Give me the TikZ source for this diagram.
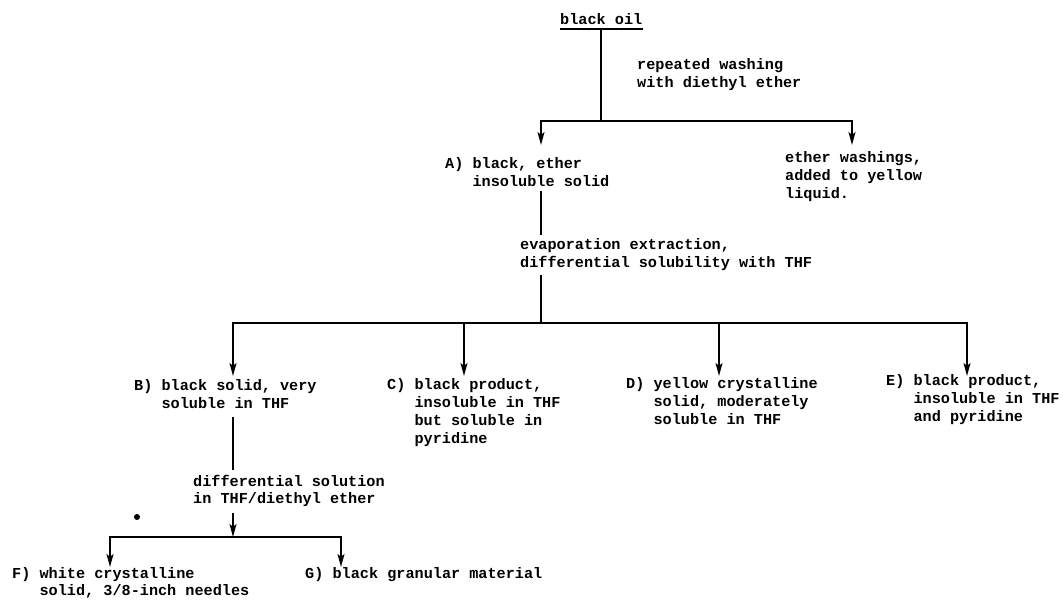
\documentclass[tikz,border=0pt]{standalone}
\usepackage{fontspec}
\newfontfamily\tw{Liberation Mono}
\usetikzlibrary{arrows.meta}
\tikzset{
  lbl/.style={anchor=base west, inner sep=0pt, align=left,
    font=\tw\bfseries\fontsize{15.2}{17.7}\selectfont},
  ln/.style={line width=1.8pt},
  arr/.style={ln, -{Stealth[length=13pt,width=7pt,inset=3pt]}}
}
\begin{document}
\begin{tikzpicture}[x=1pt,y=-1pt]
\useasboundingbox (0,0) rectangle (1063,601);
% labels (anchor = baseline of last line)
\node[lbl] (oil) at (560,25) {black oil};
\node[lbl] (wash) at (637,87.7) {repeated washing\\with diethyl ether};
\node[lbl] (A) at (445,186.7) {A) black, ether\\\hphantom{A) }insoluble solid};
\node[lbl] (W) at (785,198.4) {ether washings,\\added to yellow\\liquid.};
\node[lbl] (evap) at (520,267.7) {evaporation extraction,\\differential solubility with THF};
\node[lbl] (B) at (134,408.7) {B) black solid, very\\\hphantom{B) }soluble in THF};
\node[lbl] (C) at (387,443.1) {C) black product,\\\hphantom{C) }insoluble in THF\\\hphantom{C) }but soluble in\\\hphantom{C) }pyridine};
\node[lbl] (D) at (626,424.4) {D) yellow crystalline\\\hphantom{D) }solid, moderately\\\hphantom{D) }soluble in THF};
\node[lbl] (E) at (886,421.4) {E) black product,\\\hphantom{E) }insoluble in THF\\\hphantom{E) }and pyridine};
\node[lbl] (diff) at (193,503.7) {differential solution\\in THF/diethyl ether};
\node[lbl] (F) at (12,595.7) {F) white crystalline\\\hphantom{F) }solid, 3/8-inch needles};
\node[lbl] (G) at (305,578) {G) black granular material};
% coordinates
\coordinate (top) at (601,29);
\coordinate (j1) at (601,121);
\coordinate (tA) at (541,145);
\coordinate (tW) at (852,145);
\coordinate (Abot) at (541,191);
\coordinate (evtop) at (541,235);
\coordinate (evbot) at (541,275);
\coordinate (j2) at (541,323);
\coordinate (tB) at (233,376);
\coordinate (tC) at (464,376);
\coordinate (tD) at (719,376);
\coordinate (tE) at (967,376);
\coordinate (Bbot) at (233,417);
\coordinate (dtop) at (233,470);
\coordinate (dbot) at (233,513);
\coordinate (j3) at (233,537);
\coordinate (tF) at (110,567);
\coordinate (tG) at (341,567);
% underline
\draw[ln] ([yshift=-4pt]oil.base west) -- ([yshift=-4pt]oil.base east);
% connectors
\draw[ln] (top) -- (j1);
\draw[arr] (j1) -| (tA);
\draw[arr] (j1) -| (tW);
\draw[ln] (Abot) -- (evtop);
\draw[ln] (evbot) -- (j2);
\draw[arr] (j2) -| (tB);
\draw[arr] (j2) -| (tC);
\draw[arr] (j2) -| (tD);
\draw[arr] (j2) -| (tE);
\draw[ln] (Bbot) -- (dtop);
\draw[arr] (dbot) -- (j3);
\draw[arr] (j3) -| (tF);
\draw[arr] (j3) -| (tG);
\fill (137,517) circle (3pt);
\end{tikzpicture}
\end{document}
